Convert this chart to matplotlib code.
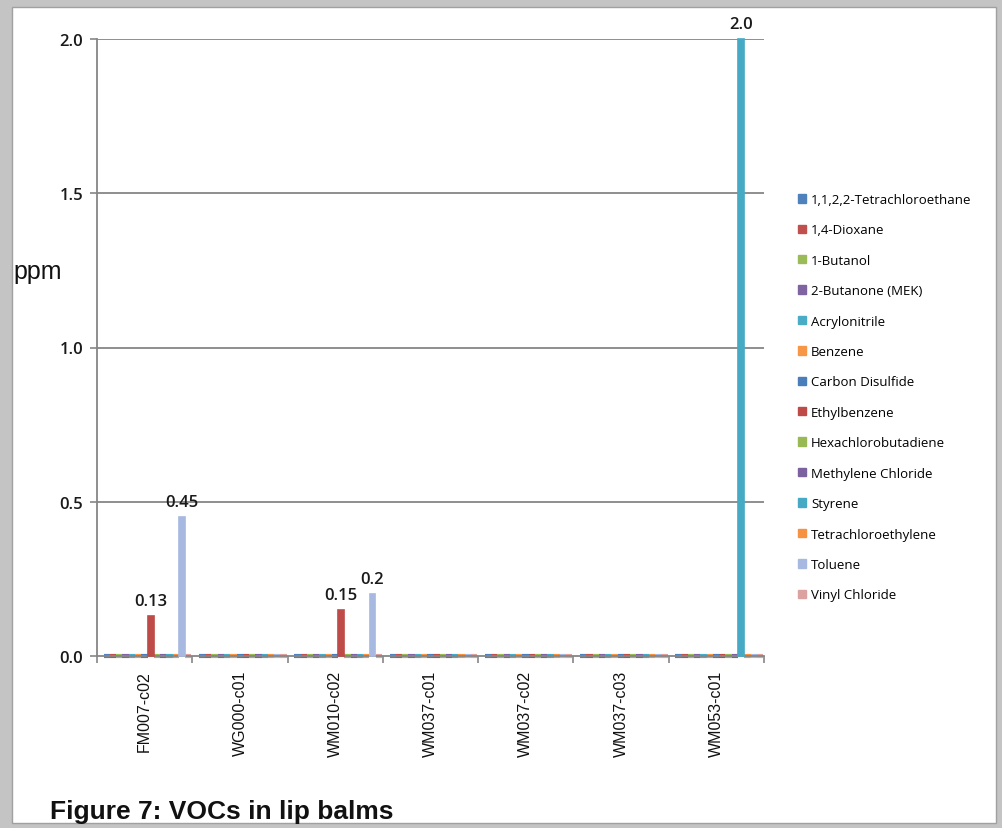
import matplotlib
matplotlib.use("Agg")
import matplotlib.pyplot as plt
import numpy as np
from matplotlib.patches import Rectangle, Patch

categories = ["FM007-c02", "WG000-c01", "WM010-c02", "WM037-c01",
              "WM037-c02", "WM037-c03", "WM053-c01"]
series_names = ["1,1,2,2-Tetrachloroethane", "1,4-Dioxane", "1-Butanol",
                "2-Butanone (MEK)", "Acrylonitrile", "Benzene",
                "Carbon Disulfide", "Ethylbenzene", "Hexachlorobutadiene",
                "Methylene Chloride", "Styrene", "Tetrachloroethylene",
                "Toluene", "Vinyl Chloride"]
colors = ["#4F81BD", "#C0504D", "#9BBB59", "#8064A2", "#4BACC6", "#F79646",
          "#4A7EBB", "#BE4B48", "#98B954", "#7D60A0", "#46AAC5", "#F69240",
          "#A7B9E0", "#DBA2A0"]
# values per series (ppm), one per category
ethylbenzene = [0.13, 0, 0.15, 0, 0, 0, 0]
styrene = [0, 0, 0, 0, 0, 0, 2.0]
toluene = [0.45, 0, 0.2, 0, 0, 0, 0]
zeros = [0, 0, 0, 0, 0, 0, 0]
values = {name: zeros for name in series_names}
values["Ethylbenzene"] = ethylbenzene
values["Styrene"] = styrene
values["Toluene"] = toluene
value_labels = {0.13: "0.13", 0.15: "0.15", 0.2: "0.2", 0.45: "0.45", 2.0: "2.0"}
yticks = [0.0, 0.5, 1.0, 1.5, 2.0]

W, H = 1002, 829
fig = plt.figure(figsize=(W / 100, H / 100), dpi=100)
fig.patch.set_facecolor("#c4c4c4")
fig.patches.append(Rectangle((12 / W, 1 - 824 / H), (996 - 12) / W, (824 - 8) / H,
                             transform=fig.transFigure, facecolor="white",
                             edgecolor="#a0a0a0", lw=1, zorder=-5))

ax = fig.add_axes([97 / W, 1 - 657 / H, 667 / W, 617 / H])
ax.set_facecolor("none")
n_s = len(series_names)
x = np.arange(len(categories))
slot = 0.92 / n_s
gridc = "#868686"
lab_font = "Open Sans"
for i, name in enumerate(series_names):
    vals = np.array(values[name], dtype=float)
    pos = x - 0.46 + slot * (i + 0.5) + 0.03
    nz = vals > 0
    # zero-valued bars: thin floor strip
    ax.bar(pos[~nz], vals[~nz], width=slot, color=colors[i],
           edgecolor=colors[i], linewidth=3.0, zorder=2, clip_on=False,
           capstyle="butt", joinstyle="miter")
    bars = ax.bar(pos[nz], vals[nz], width=slot * 0.95, color=colors[i],
                  edgecolor=colors[i], linewidth=1.2, zorder=3, clip_on=False)
    for b, v in zip(bars, vals[nz]):
        ax.annotate(value_labels.get(v, f"{v:g}"),
                    (b.get_x() + b.get_width() / 2, v),
                    xytext=(0, 5), textcoords="offset points",
                    ha="center", va="bottom", fontsize=12,
                    family=lab_font, fontweight=600, color="#1a1a1a")

ax.set_xlim(-0.5, len(categories) - 0.5)
ax.set_ylim(0, 2.0)
ax.set_yticks(yticks)
ax.set_yticklabels([f"{t:.1f}" for t in yticks], family=lab_font,
                   fontsize=12, fontweight=600, color="#1a1a1a")
for t in yticks[1:]:
    ax.axhline(t, color=gridc, lw=1.3, zorder=1)
ax.set_xticks(x)
ax.set_xticklabels(categories, rotation=90, family="Liberation Sans",
                   fontsize=11.5, color="#111111")
ax.set_xticks(np.arange(len(categories) + 1) - 0.5, minor=True)
ax.tick_params(axis="x", which="major", length=0, pad=10)
ax.tick_params(axis="x", which="minor", length=5, color=gridc, width=1.2)
ax.tick_params(axis="y", length=5, color=gridc, width=1.2, pad=5)
for s in ["top", "right"]:
    ax.spines[s].set_visible(False)
for s in ["left", "bottom"]:
    ax.spines[s].set_color(gridc)
    ax.spines[s].set_linewidth(1.3)

fig.text(13 / W, 1 - 272 / H, "ppm", family="Liberation Sans", fontsize=18,
         va="center", ha="left", color="#111111")

handles = [Patch(facecolor=c, edgecolor=c) for c in colors]
fig.legend(handles, series_names, loc="upper left",
           bbox_to_anchor=(798 / W, 1 - 194 / H), frameon=False,
           prop={"family": "Open Sans", "size": 9.5},
           handlelength=0.6, handleheight=0.6, handletextpad=0.4,
           labelspacing=1.32, borderaxespad=0, borderpad=0)

fig.text(50 / W, 1 - 812 / H, "Figure 7: VOCs in lip balms",
         family="Liberation Sans", fontweight="bold", fontsize=19,
         va="center", ha="left", color="#111111")

fig.savefig("out.png", dpi=100)
